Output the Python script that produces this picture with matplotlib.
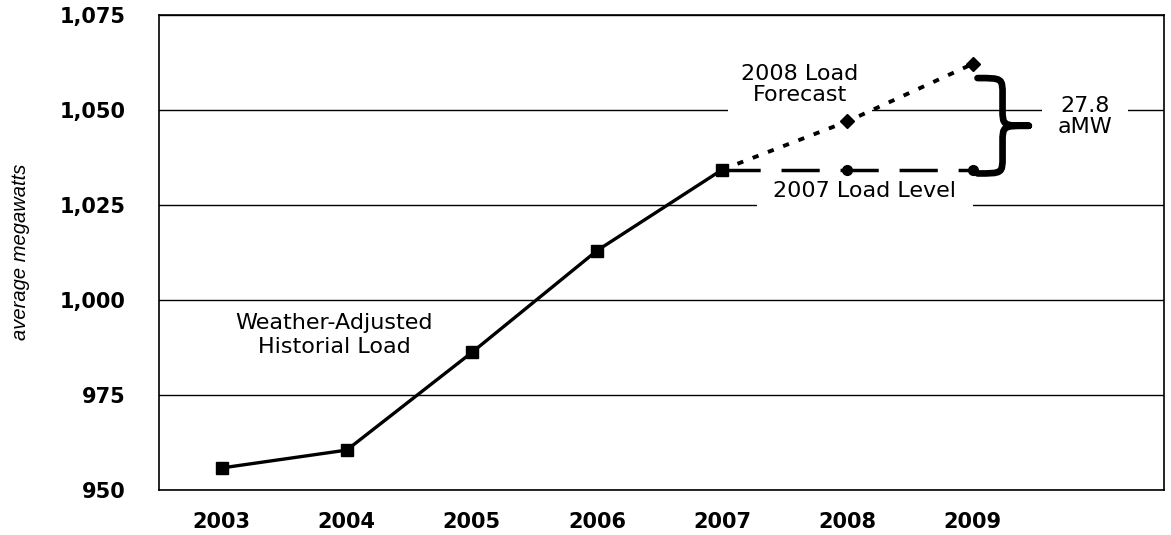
import matplotlib
matplotlib.use("Agg")
import matplotlib.pyplot as plt
from matplotlib.path import Path
from matplotlib.patches import PathPatch
from matplotlib.ticker import FuncFormatter

# ---- data ----
hist_years = [2003, 2004, 2005, 2006, 2007]
hist_load = [955.8, 960.5, 986.2, 1013.0, 1034.3]
forecast_years = [2007, 2008, 2009]
forecast_load = [1034.3, 1047.0, 1062.1]
level_years = [2007, 2008, 2009]
level_load = [1034.3, 1034.3, 1034.3]
year_ticks = [2003, 2004, 2005, 2006, 2007, 2008, 2009]
y_ticks = [950, 975, 1000, 1025, 1050, 1075]
hist_label = "Weather-Adjusted\nHistorial Load"
forecast_label = "2008 Load\nForecast"
level_label = "2007 Load Level"
gap_label = "27.8\naMW"
y_label = "average megawatts"

plt.rcParams["font.family"] = ["DejaVu Sans"]

fig = plt.figure(figsize=(11.71, 5.35), dpi=100)
ax = fig.add_axes([159 / 1171, 1 - 490 / 535, (1164 - 159) / 1171, (490 - 15) / 535])

ax.set_xlim(2002.5, 2010.53)
ax.set_ylim(y_ticks[0], y_ticks[-1])

# historical
ax.plot(hist_years, hist_load, color="black", lw=2.4, marker="s", ms=9,
        solid_joinstyle="miter", zorder=5)
# forecast (dotted)
ax.plot(forecast_years, forecast_load, color="black", lw=2.8,
        linestyle=(0, (1.6, 2.6)), marker="D", ms=7.5, markevery=[1, 2],
        zorder=5)
# 2007 level (dashed)
ax.plot(level_years, level_load, color="black", lw=2.5,
        linestyle=(0, (11, 6)), marker="o", ms=7, markevery=[1, 2],
        zorder=5)

# grid
ax.set_yticks(y_ticks)
ax.set_xticks(year_ticks)
ax.yaxis.grid(True, color="black", lw=1.0)
ax.set_axisbelow(True)
for s in ax.spines.values():
    s.set_linewidth(1.2)
    s.set_color("black")

ax.yaxis.set_major_formatter(FuncFormatter(lambda v, p: f"{int(v):,}"))
ax.tick_params(axis="both", length=0)
ax.tick_params(axis="y", pad=24, labelsize=15)
ax.tick_params(axis="x", pad=16, labelsize=15)
for lab in ax.get_xticklabels() + ax.get_yticklabels():
    lab.set_fontweight("bold")

fig.text(21 / 1171, 1 - 252 / 535, y_label, rotation=90, ha="center",
         va="center", fontsize=14.5, style="italic",
         family=["Liberation Sans", "DejaVu Sans"])

# annotations
ax.text(2003.9, 990.9, hist_label, ha="center", va="center", fontsize=16,
        linespacing=1.25, zorder=3)
ax.text(2007.62, 1056.7, forecast_label, ha="center", va="center",
        fontsize=16, linespacing=1.05, zorder=3,
        bbox=dict(boxstyle="square,pad=0.6", fc="white", ec="none"))
ax.text(2008.14, 1028.6, level_label, ha="center", va="center",
        fontsize=16, zorder=3,
        bbox=dict(boxstyle="square,pad=0.75", fc="white", ec="none"))
ax.text(2009.9, 1048.3, gap_label, ha="center", va="center",
        fontsize=16, linespacing=1.1, zorder=3,
        bbox=dict(boxstyle="square,pad=0.7", fc="white", ec="none"))

# curly brace between level and forecast at last year
bx0 = level_years[-1] + 0.04
bx1 = bx0 + 0.2
bx2 = bx0 + 0.41
yt = forecast_load[-1] - 3.7
yb = level_load[-1] - 1.0
ym = (yt + yb) / 2
h = 4.5
verts = [
    (bx0, yt),
    (bx1, yt), (bx1, yt), (bx1, yt - h),
    (bx1, ym + h),
    (bx1, ym), (bx1, ym), (bx2, ym),
    (bx1, ym), (bx1, ym), (bx1, ym - h),
    (bx1, yb + h),
    (bx1, yb), (bx1, yb), (bx0, yb),
]
codes = [Path.MOVETO,
         Path.CURVE4, Path.CURVE4, Path.CURVE4,
         Path.LINETO,
         Path.CURVE4, Path.CURVE4, Path.CURVE4,
         Path.CURVE4, Path.CURVE4, Path.CURVE4,
         Path.LINETO,
         Path.CURVE4, Path.CURVE4, Path.CURVE4]
ax.add_patch(PathPatch(Path(verts, codes), fill=False, lw=4.8,
                       ec="black", capstyle="round", joinstyle="round",
                       zorder=6))

fig.savefig("out.png", dpi=100)
